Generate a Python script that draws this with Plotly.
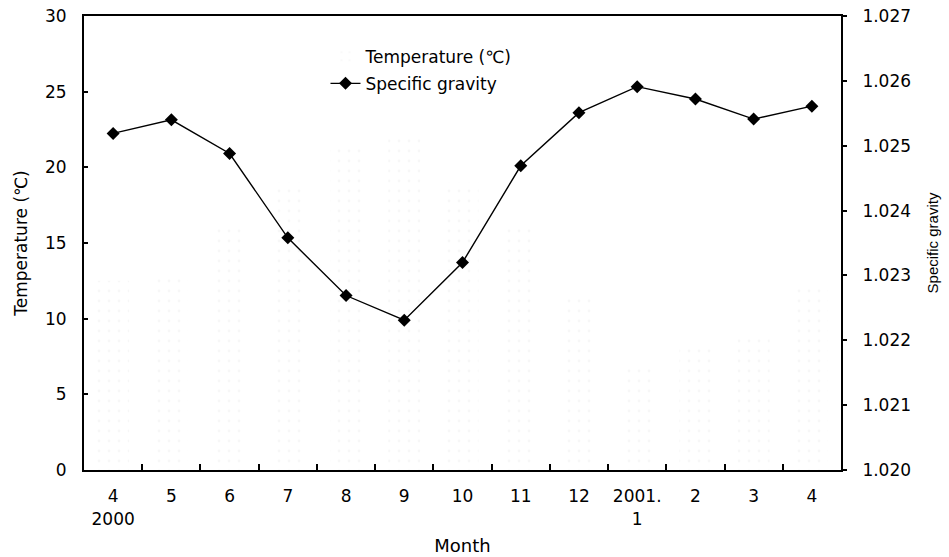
import plotly.graph_objects as go

categories = ["4 2000", "5", "6", "7", "8", "9", "10", "11", "12", "2001.1", "2", "3", "4"]
tick_labels = ["4<br>2000", "5", "6", "7", "8", "9", "10", "11", "12", "2001.<br>1", "2", "3", "4"]
temperature = [12.5, 13.0, 16.0, 19.0, 21.3, 22.0, 19.0, 16.0, 11.6, 7.0, 8.1, 9.0, 12.0]
specific_gravity = [1.02519, 1.02540, 1.02488, 1.02358, 1.02269, 1.02231, 1.02320,
                    1.02469, 1.02551, 1.02591, 1.02572, 1.02541, 1.02561]

FONT = "DejaVu Sans, sans-serif"

fig = go.Figure()
fig.add_trace(go.Bar(
    x=categories, y=temperature, name="Temperature (℃)",
    marker=dict(color="rgba(255,255,255,0)", line=dict(width=0),
                pattern=dict(shape=".", fgcolor="#f0f0f0", bgcolor="rgba(255,255,255,0)",
                             size=10, solidity=0.06, fillmode="overlay")),
    width=0.55, legendgroup="a", showlegend=True,
))
fig.add_trace(go.Scatter(
    x=categories, y=specific_gravity, name="Specific gravity", yaxis="y2",
    mode="lines+markers",
    line=dict(color="black", width=1.4),
    marker=dict(symbol="diamond", size=10, color="black"),
    legendgroup="b",
))

fig.update_layout(
    width=949, height=557,
    margin=dict(l=84, r=108, t=16, b=87),
    paper_bgcolor="white", plot_bgcolor="white",
    font=dict(family=FONT, size=17, color="black"),
    barmode="overlay",
    showlegend=True,
    legend=dict(x=0.319, y=0.95, xanchor="left", yanchor="top",
                bgcolor="rgba(0,0,0,0)", font=dict(size=17, family=FONT),
                tracegroupgap=2, itemwidth=30),
    xaxis=dict(
        type="category", categoryorder="array", categoryarray=categories,
        range=[-0.5, len(categories) - 0.5],
        tickmode="array", tickvals=categories, ticktext=tick_labels, tickangle=0,
        tickson="boundaries", ticks="inside", ticklen=6, tickwidth=2, tickcolor="black",
        showline=True, linecolor="black", linewidth=2, mirror=True,
        showgrid=False, zeroline=False, automargin=False,
        title=dict(text="Month", font=dict(size=18), standoff=12),
        ticklabelstandoff=10, ticklabeloverflow="allow",
    ),
    yaxis=dict(
        range=[0, 30], dtick=5, ticks="inside", ticklen=4, tickwidth=2, tickcolor="black",
        showline=True, linecolor="black", linewidth=2,
        showgrid=False, zeroline=False, automargin=False,
        title=dict(text="Temperature (℃)", font=dict(size=17), standoff=13),
        ticklabelstandoff=12, ticklabeloverflow="allow",
    ),
    yaxis2=dict(
        overlaying="y", side="right", range=[1.020, 1.027], dtick=0.001,
        tickformat=".3f", ticks="outside", ticklen=4, tickwidth=2, tickcolor="black",
        showline=True, linecolor="black", linewidth=2,
        showgrid=False, zeroline=False, automargin=False,
        title=dict(text="Specific gravity", font=dict(size=15, family="Liberation Sans, Arial, sans-serif"), standoff=17),
        ticklabelstandoff=12, ticklabeloverflow="allow",
    ),
)

fig.write_html("out.html", config={"displayModeBar": False},
               post_script="document.body.style.margin='0';")
